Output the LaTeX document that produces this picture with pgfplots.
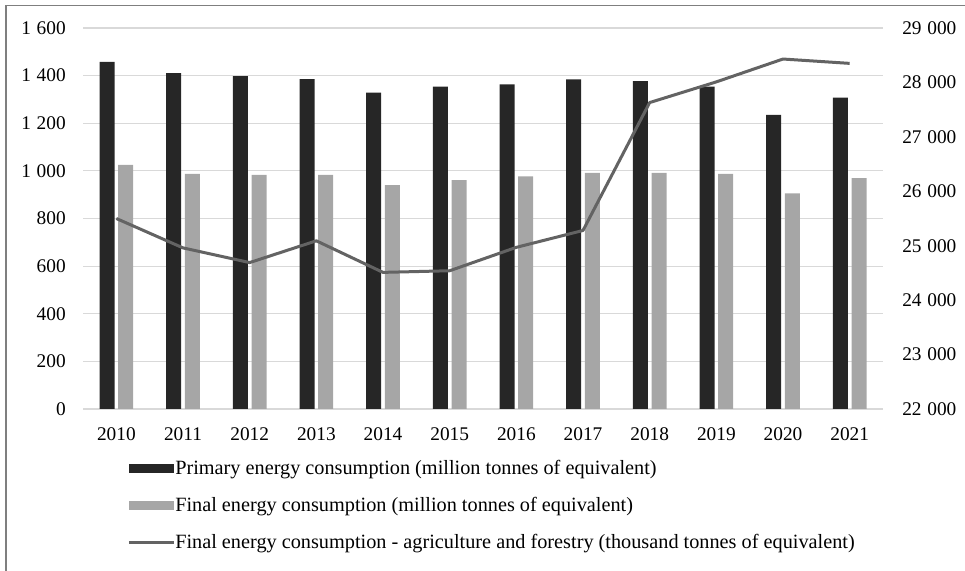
\documentclass[border=0pt]{standalone}
\usepackage{pgfplots}
\pgfplotsset{compat=1.18}
\usepackage{fontspec}
\setmainfont{Liberation Serif}
\definecolor{darkbar}{HTML}{262626}
\definecolor{lightbar}{HTML}{A6A6A6}
\definecolor{linegray}{HTML}{636363}
\definecolor{gridgray}{HTML}{D9D9D9}
\definecolor{framegray}{HTML}{7F7F7F}

\begin{document}
\fontsize{14.5}{17}\selectfont
\begin{tikzpicture}[x=1pt,y=1pt]
\draw[framegray, line width=1.1pt] (4.5,-10) -- (4.5,424) -- (740,424);
\begin{axis}[
  at={(62.25pt,121.5pt)}, anchor=south west,
  scale only axis, width=600pt, height=285.75pt,
  xmin=-0.5, xmax=11.5, ymin=0, ymax=1600,
  xtick={0,...,11}, xticklabels={2010,2011,2012,2013,2014,2015,2016,2017,2018,2019,2020,2021},
  ytick={0,200,...,1600},
  ymajorgrids, grid style={gridgray, line width=0.9pt},
  axis line style={draw=none}, major tick length=0pt,
  /pgf/number format/assume math mode=true,
  /pgf/number format/1000 sep={\hspace{0.3em}},
  xticklabel style={inner sep=0pt, yshift=-13.5pt},
  yticklabel style={inner sep=0pt, xshift=-12.75pt},
  ybar, bar width=11.25pt,
  legend style={draw=none, fill=none, at={(0.055,-0.136)}, anchor=north west,
    inner sep=0pt, row sep=14.2pt, font=\fontsize{15.2}{18}\selectfont,
    nodes={inner sep=0pt, text height=10.3pt, text depth=3.2pt}},
  legend cell align=left,
]
\addplot[fill=darkbar, draw=none, bar shift=-7pt,
  legend image code/.code={\fill[darkbar] (0pt,-2.5pt) rectangle (33.75pt,4.5pt);}]
  coordinates {(0,1458)(1,1410)(2,1398)(3,1385)(4,1329)(5,1354)(6,1363)(7,1384)(8,1377)(9,1354)(10,1235)(11,1308)};
\addlegendentry{Primary energy consumption (million tonnes of equivalent)}
\addplot[fill=lightbar, draw=none, bar shift=7pt,
  legend image code/.code={\fill[lightbar] (0pt,-2.5pt) rectangle (33.75pt,4.5pt);}]
  coordinates {(0,1025)(1,987)(2,983)(3,983)(4,940)(5,961)(6,977)(7,992)(8,992)(9,987)(10,906)(11,970)};
\addlegendentry{Final energy consumption (million tonnes of equivalent)}
\addlegendimage{legend image code/.code={\draw[linegray, line width=2.25pt] (0pt,1pt) -- (33.75pt,1pt);}}
\addlegendentry{Final energy consumption - agriculture and forestry (thousand tonnes of equivalent)}
\end{axis}
\begin{axis}[
  at={(62.25pt,121.5pt)}, anchor=south west,
  scale only axis, width=600pt, height=285.75pt,
  xmin=-0.5, xmax=11.5, ymin=22000, ymax=29000,
  hide x axis, axis y line*=right,
  axis line style={draw=none}, major tick length=0pt,
  ytick={22000,23000,...,29000}, scaled y ticks=false,
  /pgf/number format/assume math mode=true,
  /pgf/number format/1000 sep={\hspace{0.3em}},
  yticklabel style={inner sep=0pt, xshift=14.25pt},
]
\addplot[linegray, line width=2.25pt, line join=round]
  coordinates {(0,25500)(1,24960)(2,24690)(3,25090)(4,24510)(5,24540)(6,24970)(7,25280)(8,27630)(9,28010)(10,28430)(11,28350)};
\end{axis}
\pgfresetboundingbox
\useasboundingbox (0,0) rectangle (723.75,428.25);
\end{tikzpicture}
\end{document}
